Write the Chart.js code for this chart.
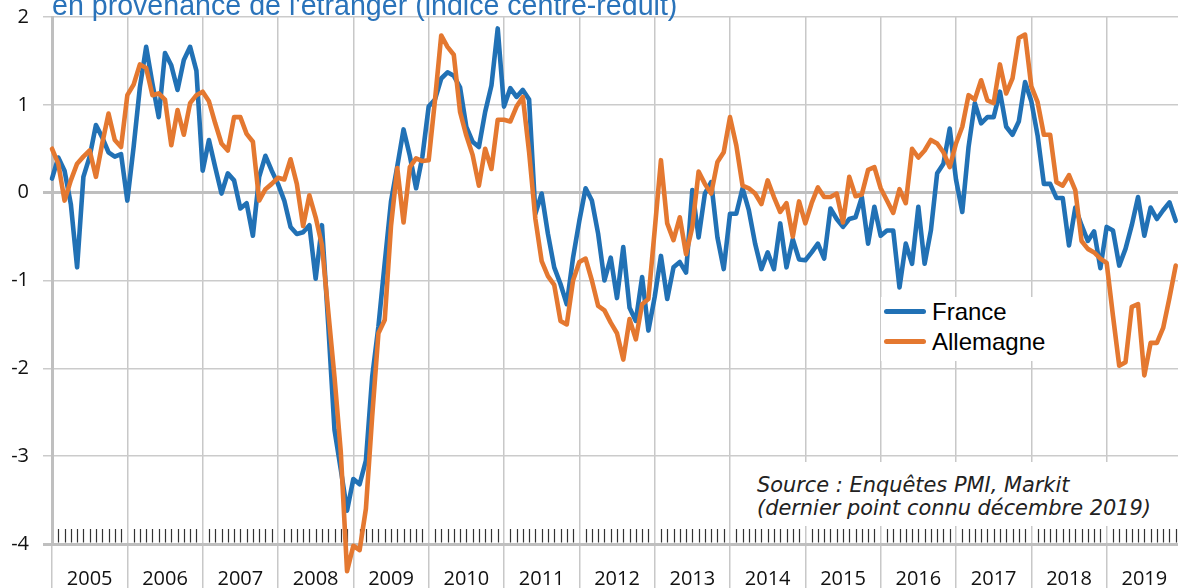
<!DOCTYPE html>
<html><head><meta charset="utf-8">
<script src="https://cdn.jsdelivr.net/npm/chart.js@4.4.1/dist/chart.umd.min.js"></script>
<style>
html,body{margin:0;padding:0;background:#fff;overflow:hidden;width:1178px;height:588px;}
#wrap{position:relative;width:1184px;height:588px;overflow:hidden;}
#c{position:absolute;left:0;top:0;}
#title{position:absolute;left:52px;top:-11px;font-family:"Liberation Sans",Arial,sans-serif;font-size:28.6px;line-height:32px;color:#2A73BA;white-space:nowrap;}
#srcbox{position:absolute;left:750px;top:462px;width:440px;height:64px;background:#fff;}
.src{position:absolute;left:757px;font-family:"DejaVu Sans",sans-serif;font-style:italic;font-size:20.9px;line-height:26px;color:#222;white-space:nowrap;}
#legbox{position:absolute;left:881px;top:297px;width:174px;height:64px;background:#fff;}
.legline{position:absolute;left:884px;width:42px;height:5px;border-radius:3px;}
.legtxt{position:absolute;left:932px;font-family:"Liberation Sans",Arial,sans-serif;font-size:24px;line-height:28px;color:#000;white-space:nowrap;}
</style></head>
<body><div id="wrap">
<canvas id="c" width="1184" height="588"></canvas>
<div id="title">en provenance de l'étranger (indice centré-réduit)</div>
<div id="srcbox"></div>
<div class="src" style="top:472px">Source : Enquêtes PMI, Markit</div>
<div class="src" style="top:495px">(dernier point connu décembre 2019)</div>
<div id="legbox"></div>
<div id="legend"></div>
</div>
<script>
const years = ['2005','2006','2007','2008','2009','2010','2011','2012','2013','2014','2015','2016','2017','2018','2019'];
const yTicks = [2,1,0,-1,-2,-3,-4];
const seriesNames = ['France','Allemagne'];
const france = [
 0.16,0.40,0.25,-0.13,-0.85,0.18,0.41,0.77,0.63,0.46,0.41,0.44,
 -0.09,0.52,1.20,1.66,1.24,0.86,1.59,1.45,1.17,1.51,1.66,1.39,
 0.25,0.60,0.29,-0.01,0.22,0.14,-0.18,-0.12,-0.49,0.18,0.42,0.25,
 0.10,-0.09,-0.39,-0.47,-0.45,-0.37,-0.98,-0.37,-1.50,-2.70,-3.15,-3.62,
 -3.26,-3.32,-3.05,-2.10,-1.52,-0.80,-0.10,0.30,0.72,0.42,0.05,0.41,
 0.98,1.06,1.30,1.37,1.33,1.20,0.75,0.58,0.52,0.92,1.22,1.87,
 0.98,1.19,1.09,1.17,1.06,-0.24,-0.01,-0.47,-0.85,-1.04,-1.27,-0.74,
 -0.32,0.05,-0.09,-0.47,-1.00,-0.74,-1.20,-0.62,-1.31,-1.46,-0.96,-1.57,
 -1.19,-0.72,-1.21,-0.85,-0.79,-0.91,0.03,-0.51,-0.01,0.12,-0.51,-0.87,
 -0.24,-0.24,0.05,-0.20,-0.58,-0.87,-0.68,-0.87,-0.35,-0.85,-0.53,-0.76,
 -0.77,-0.68,-0.58,-0.75,-0.18,-0.30,-0.39,-0.30,-0.28,-0.05,-0.58,-0.16,
 -0.49,-0.43,-0.43,-1.08,-0.58,-0.81,-0.16,-0.81,-0.43,0.22,0.33,0.73,
 0.15,-0.22,0.52,1.02,0.79,0.86,0.86,1.15,0.75,0.66,0.81,1.26,
 1.04,0.65,0.10,0.10,-0.06,-0.06,-0.60,-0.17,-0.37,-0.55,-0.44,-0.86,
 -0.39,-0.43,-0.83,-0.64,-0.37,-0.05,-0.49,-0.17,-0.30,-0.20,-0.11,-0.32
];
const allemagne = [
 0.50,0.33,-0.09,0.14,0.33,0.41,0.48,0.18,0.56,0.90,0.60,0.52,
 1.11,1.23,1.46,1.42,1.11,1.13,1.06,0.54,0.94,0.66,1.02,1.11,
 1.15,1.04,0.79,0.56,0.48,0.86,0.86,0.67,0.58,-0.09,0.04,0.10,
 0.17,0.15,0.38,0.10,-0.38,-0.03,-0.28,-0.60,-1.35,-2.10,-2.95,-4.31,
 -4.02,-4.07,-3.60,-2.55,-1.60,-1.45,-0.38,0.28,-0.34,0.29,0.39,0.36,
 0.37,1.05,1.79,1.66,1.57,0.92,0.65,0.43,0.08,0.50,0.27,0.83,
 0.83,0.81,0.98,1.09,0.46,-0.30,-0.78,-0.95,-1.05,-1.46,-1.50,-1.00,
 -0.79,-0.75,-1.00,-1.29,-1.34,-1.48,-1.60,-1.90,-1.44,-1.67,-1.27,-1.21,
 -0.43,0.37,-0.35,-0.54,-0.28,-0.70,-0.39,0.24,0.10,-0.01,0.35,0.46,
 0.86,0.54,0.08,0.05,-0.01,-0.13,0.14,-0.05,-0.22,-0.12,-0.50,-0.10,
 -0.35,-0.12,0.06,-0.05,-0.05,-0.01,-0.34,0.18,-0.04,-0.02,0.26,0.29,
 0.05,-0.09,-0.23,0.04,-0.12,0.50,0.40,0.48,0.60,0.56,0.46,0.29,
 0.56,0.75,1.11,1.06,1.28,1.05,1.02,1.46,1.13,1.30,1.76,1.80,
 1.21,1.03,0.66,0.66,0.12,0.08,0.20,0.03,-0.55,-0.64,-0.68,-0.75,
 -0.80,-1.40,-1.97,-1.93,-1.30,-1.27,-2.08,-1.71,-1.71,-1.54,-1.20,-0.83
];
const COLORS = ['#2171B5','#E47830'];
const nMonths = years.length * 12;

const minorTicks = {
  id:'minorTicks',
  beforeDatasetsDraw(chart){
    const {ctx, scales:{x,y}} = chart;
    const yb = y.getPixelForValue(-4);
    ctx.save();
    ctx.strokeStyle = '#333';
    ctx.lineWidth = 1.2;
    ctx.beginPath();
    for (let m = 1; m < nMonths; m++) {
      if (m % 12 === 0) continue;
      const px = Math.round(x.getPixelForValue(m)) + 0.5;
      ctx.moveTo(px, yb - 15);
      ctx.lineTo(px, yb - 1.5);
    }
    ctx.stroke();
    ctx.restore();
  }
};

const toPts = arr => arr.map((v,i)=>({x:i,y:v}));

new Chart(document.getElementById('c'), {
  type:'line',
  data:{ datasets:[
    {label:seriesNames[0], data:toPts(france), borderColor:COLORS[0], borderWidth:4.6, pointRadius:0, tension:0, clip:false, borderJoinStyle:'round', borderCapStyle:'round', order:1},
    {label:seriesNames[1], data:toPts(allemagne), borderColor:COLORS[1], borderWidth:4.6, pointRadius:0, tension:0, clip:false, borderJoinStyle:'round', borderCapStyle:'round', order:0}
  ]},
  options:{
    responsive:false, animation:false, devicePixelRatio:1,
    layout:{padding:{top:17, right:2, left:0, bottom:0}},
    plugins:{legend:{display:false}, tooltip:{enabled:false}},
    scales:{
      x:{
        type:'linear', min:0, max:nMonths,
        afterBuildTicks: s => { const t=[]; for(let v=0; v<=nMonths; v+=6) t.push({value:v}); s.ticks=t; },
        afterFit: s => { s.height = 44; },
        ticks:{autoSkip:false, maxRotation:0, minRotation:0, padding:-22, color:'#111',
          font:{family:'"Open Sans", sans-serif', size:20},
          callback: v => (v % 12 === 6) ? years[(v-6)/12] : ''},
        grid:{color: c => (c.tick && c.tick.value % 12 === 0) ? '#C8C8C8' : 'rgba(0,0,0,0)', lineWidth:1.5, tickLength:45, drawTicks:true},
        border:{color:'#BFBFBF', width:3}
      },
      y:{
        min:-4, max:2,
        afterBuildTicks: s => { s.ticks = yTicks.map(v=>({value:v})); },
        afterFit: s => { s.width = 52; },
        ticks:{padding:14, color:'#111', font:{family:'"Open Sans", sans-serif', size:20, lineHeight:0.2}, callback: v => String(v)},
        grid:{color: c => (c.tick && (c.tick.value===0 || c.tick.value===-4)) ? '#BFBFBF' : '#CBCBCB',
              lineWidth: c => (c.tick && (c.tick.value===0 || c.tick.value===-4)) ? 3 : 1.5, tickLength:9},
        border:{color:'#BFBFBF', width:3}
      }
    }
  },
  plugins:[minorTicks]
});

const leg = document.getElementById('legend');
const legTops = [298, 328];
seriesNames.forEach((name,k)=>{
  const ln = document.createElement('div');
  ln.className='legline'; ln.style.top=(legTops[k]+11)+'px'; ln.style.background=COLORS[k];
  const tx = document.createElement('div');
  tx.className='legtxt'; tx.style.top=legTops[k]+'px'; tx.textContent=name;
  leg.appendChild(ln); leg.appendChild(tx);
});
</script>
</body></html>
